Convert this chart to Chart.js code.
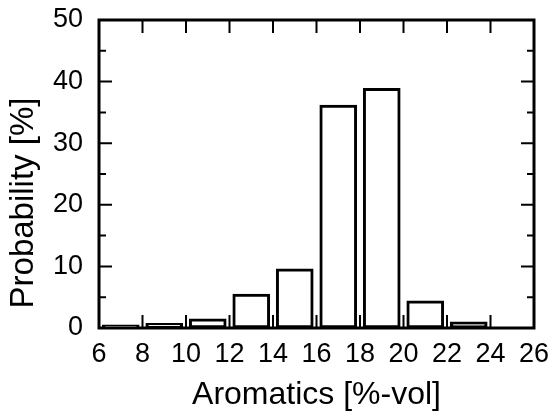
<!DOCTYPE html>
<html>
<head>
<meta charset="utf-8">
<script src="https://cdn.jsdelivr.net/npm/chart.js@4"></script>
<style>
html, body { margin: 0; padding: 0; background: #fff; }
#wrap { width: 552px; height: 416px; }
</style>
</head>
<body>
<div id="wrap"><canvas id="chart" width="552" height="416"></canvas></div>
<script>
// bin centres (aromatics, %-vol) and probability of each bin (%)
var binCentres = [7, 9, 11, 13, 15, 17, 19, 21, 23];
var probability = [0.5, 0.75, 1.5, 5.5, 9.6, 36.2, 38.9, 4.4, 1.0];

// axis ticks
var xTicks = [6, 8, 10, 12, 14, 16, 18, 20, 22, 24, 26];
var yTicks = [0, 10, 20, 30, 40, 50];
var yMinorTicks = [5, 15, 25, 35, 45];

var fontFamily = "'Liberation Sans', Arial, sans-serif";

// build the point list for the linear x scale
var points = [];
binCentres.forEach(function(c, i) {
    points.push({ x: c, y: probability[i] });
});

// no extra padding from the scales, layout padding decides the plot box
function noPad(scale) {
    scale.paddingTop = 0;
    scale.paddingBottom = 0;
    scale.paddingLeft = 0;
    scale.paddingRight = 0;
}

// frame, inward ticks and y title
var framePlugin = {
    id: 'frame',
    afterDraw: function(chart) {
        var ctx = chart.ctx;
        var a = chart.chartArea;
        var xs = chart.scales.x;
        var ys = chart.scales.y;
        ctx.save();
        ctx.strokeStyle = '#000';

        // ticks on all four sides, pointing inward
        ctx.lineWidth = 2;
        ctx.beginPath();
        xTicks.forEach(function(v) {
            var px = xs.getPixelForValue(v);
            ctx.moveTo(px, a.bottom);
            ctx.lineTo(px, a.bottom - 13);
            ctx.moveTo(px, a.top);
            ctx.lineTo(px, a.top + 13);
        });
        yTicks.forEach(function(v) {
            var py = ys.getPixelForValue(v);
            ctx.moveTo(a.left, py);
            ctx.lineTo(a.left + 13, py);
            ctx.moveTo(a.right, py);
            ctx.lineTo(a.right - 13, py);
        });
        yMinorTicks.forEach(function(v) {
            var py = ys.getPixelForValue(v);
            ctx.moveTo(a.left, py);
            ctx.lineTo(a.left + 7, py);
            ctx.moveTo(a.right, py);
            ctx.lineTo(a.right - 7, py);
        });
        ctx.stroke();

        // box
        ctx.lineWidth = 3;
        ctx.strokeRect(a.left, a.top, a.right - a.left, a.bottom - a.top);

        // y axis title
        ctx.fillStyle = '#000';
        ctx.font = '33px ' + fontFamily;
        ctx.textAlign = 'center';
        ctx.textBaseline = 'middle';
        ctx.translate(24, 203);
        ctx.rotate(-Math.PI / 2);
        ctx.fillText('Probability [%]', 0, 0);
        ctx.restore();
    }
};

var config = {
    type: 'bar',
    data: {
        datasets: [{
            data: points,
            backgroundColor: '#fff',
            borderColor: '#000',
            borderWidth: 3,
            borderSkipped: false,
            barThickness: 37
        }]
    },
    options: {
        responsive: false,
        animation: false,
        devicePixelRatio: 1,
        layout: { padding: { top: 20, right: 18, left: 0, bottom: 0 } },
        plugins: {
            legend: { display: false },
            tooltip: { enabled: false }
        },
        scales: {
            x: {
                type: 'linear',
                min: 6,
                max: 26,
                offset: false,
                afterBuildTicks: function(scale) {
                    scale.ticks = xTicks.map(function(v) { return { value: v }; });
                },
                afterFit: function(scale) {
                    scale.height = 88;
                    noPad(scale);
                },
                grid: { display: false, drawTicks: false },
                border: { display: false },
                ticks: {
                    padding: 10,
                    color: '#000',
                    maxRotation: 0,
                    font: { family: fontFamily, size: 27 }
                },
                title: {
                    display: true,
                    text: 'Aromatics [%-vol]',
                    color: '#000',
                    padding: { top: 0, bottom: 2 },
                    font: { family: fontFamily, size: 32 }
                }
            },
            y: {
                min: 0,
                max: 50,
                afterBuildTicks: function(scale) {
                    scale.ticks = yTicks.map(function(v) { return { value: v }; });
                },
                afterFit: function(scale) {
                    scale.width = 99;
                    noPad(scale);
                },
                grid: { display: false, drawTicks: false },
                border: { display: false },
                ticks: {
                    padding: 16,
                    color: '#000',
                    font: { family: fontFamily, size: 27 }
                }
            }
        }
    },
    plugins: [framePlugin]
};

var myChart = new Chart(document.getElementById('chart'), config);
</script>
</body>
</html>
